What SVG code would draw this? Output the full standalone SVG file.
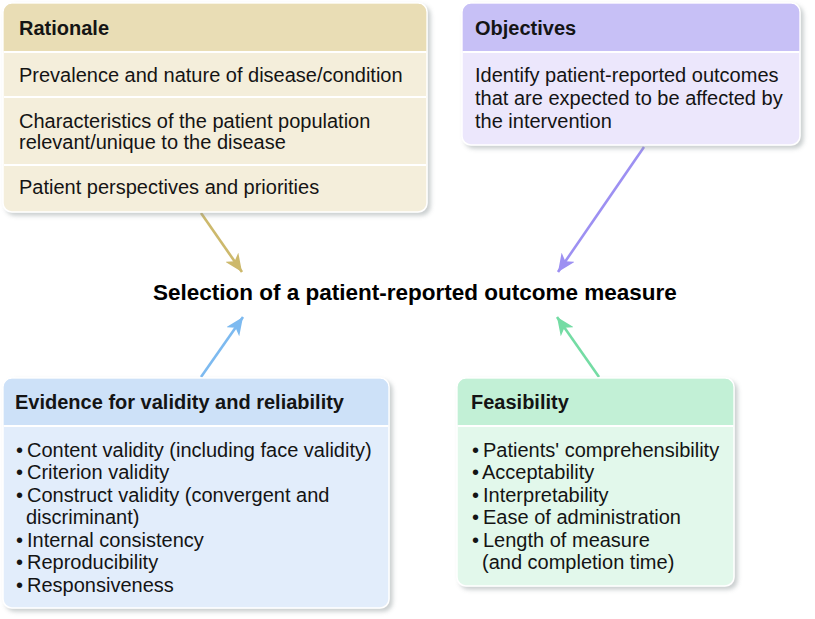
<svg xmlns="http://www.w3.org/2000/svg" width="815" height="619" viewBox="0 0 815 619">
<defs>
<filter id="sh" x="-5%" y="-5%" width="115%" height="115%">
<feDropShadow dx="3" dy="3" stdDeviation="2" flood-color="#8a9496" flood-opacity="0.45"/>
</filter>
<marker id="mTan" markerUnits="userSpaceOnUse" markerWidth="20" markerHeight="16" refX="18" refY="8" orient="auto"><path d="M0,0 L18,8 L0,16 L5,8 z" fill="#cdb96c"/></marker>
<marker id="mPur" markerUnits="userSpaceOnUse" markerWidth="20" markerHeight="16" refX="18" refY="8" orient="auto"><path d="M0,0 L18,8 L0,16 L5,8 z" fill="#9d90f2"/></marker>
<marker id="mBlu" markerUnits="userSpaceOnUse" markerWidth="20" markerHeight="16" refX="18" refY="8" orient="auto"><path d="M0,0 L18,8 L0,16 L5,8 z" fill="#7dbaf0"/></marker>
<marker id="mGrn" markerUnits="userSpaceOnUse" markerWidth="20" markerHeight="16" refX="18" refY="8" orient="auto"><path d="M0,0 L18,8 L0,16 L5,8 z" fill="#74dca4"/></marker>
</defs>
<style>
text{font-family:"Liberation Sans",Arial,Helvetica,sans-serif;fill:#141414;}
.h{font-size:20px;font-weight:bold;}
.t{font-size:20px;}
.title{font-size:22.5px;font-weight:bold;fill:#000;}
.box{filter:url(#sh);stroke:#ffffff;stroke-width:1.5;}
.div{stroke:#ffffff;stroke-width:2;}
.arr{stroke-width:2.6;fill:none;}
</style>
<rect width="815" height="619" fill="#ffffff"/>

<g id="connectors">
<line class="arr" x1="201" y1="213" x2="242" y2="272" stroke="#cdb96c" marker-end="url(#mTan)"/>
<line class="arr" x1="644" y1="147" x2="558" y2="272" stroke="#9d90f2" marker-end="url(#mPur)"/>
<line class="arr" x1="201" y1="377" x2="243" y2="317" stroke="#7dbaf0" marker-end="url(#mBlu)"/>
<line class="arr" x1="599" y1="377" x2="557" y2="317" stroke="#74dca4" marker-end="url(#mGrn)"/>
</g>

<g id="rationale">
<rect class="box" x="3" y="3" width="424" height="209" rx="9" fill="#f4eedb"/>
<path d="M3.75,51 V12 a8.25,8.25 0 0 1 8.25,-8.25 H418 a8.25,8.25 0 0 1 8.25,8.25 V51 Z" fill="#e9ddb5"/>
<line class="div" x1="4" y1="52" x2="426" y2="52"/>
<line class="div" x1="4" y1="97" x2="426" y2="97"/>
<line class="div" x1="4" y1="165" x2="426" y2="165"/>
<text class="h" x="19" y="35">Rationale</text>
<text class="t" x="19" y="82">Prevalence and nature of disease/condition</text>
<text class="t" x="19" y="128">Characteristics of the patient population</text>
<text class="t" x="19" y="149">relevant/unique to the disease</text>
<text class="t" x="19" y="194">Patient perspectives and priorities</text>
</g>

<g id="objectives">
<rect class="box" x="462" y="3" width="338" height="142" rx="9" fill="#ece7fc"/>
<path d="M462.75,51 V12 a8.25,8.25 0 0 1 8.25,-8.25 H791 a8.25,8.25 0 0 1 8.25,8.25 V51 Z" fill="#c7c0f6"/>
<line class="div" x1="463" y1="52" x2="799" y2="52"/>
<text class="h" x="475" y="35">Objectives</text>
<text class="t" x="475" y="82">Identify patient-reported outcomes</text>
<text class="t" x="475" y="105">that are expected to be affected by</text>
<text class="t" x="475" y="128">the intervention</text>
</g>

<g id="center">
<text class="title" x="153" y="300">Selection of a patient-reported outcome measure</text>
</g>

<g id="evidence">
<rect class="box" x="3" y="378" width="386" height="230" rx="9" fill="#e2edfb"/>
<path d="M3.75,425 V387 a8.25,8.25 0 0 1 8.25,-8.25 H380 a8.25,8.25 0 0 1 8.25,8.25 V425 Z" fill="#cde1f8"/>
<line class="div" x1="4" y1="426" x2="388" y2="426"/>
<text class="h" x="15" y="409">Evidence for validity and reliability</text>
<text class="t"><tspan x="16" y="457">•</tspan><tspan x="27" y="457">Content validity (including face validity)</tspan></text>
<text class="t"><tspan x="16" y="479">•</tspan><tspan x="27" y="479">Criterion validity</tspan></text>
<text class="t"><tspan x="16" y="502">•</tspan><tspan x="27" y="502">Construct validity (convergent and</tspan></text>
<text class="t" x="26" y="524">discriminant)</text>
<text class="t"><tspan x="16" y="547">•</tspan><tspan x="27" y="547">Internal consistency</tspan></text>
<text class="t"><tspan x="16" y="569">•</tspan><tspan x="27" y="569">Reproducibility</tspan></text>
<text class="t"><tspan x="16" y="592">•</tspan><tspan x="27" y="592">Responsiveness</tspan></text>
</g>

<g id="feasibility">
<rect class="box" x="457" y="378" width="277" height="208" rx="9" fill="#e2f8eb"/>
<path d="M457.75,425 V387 a8.25,8.25 0 0 1 8.25,-8.25 H725 a8.25,8.25 0 0 1 8.25,8.25 V425 Z" fill="#c2f0d6"/>
<line class="div" x1="458" y1="426" x2="733" y2="426"/>
<text class="h" x="471" y="409">Feasibility</text>
<text class="t"><tspan x="472" y="457">•</tspan><tspan x="483" y="457">Patients' comprehensibility</tspan></text>
<text class="t"><tspan x="472" y="479">•</tspan><tspan x="482" y="479">Acceptability</tspan></text>
<text class="t"><tspan x="472" y="502">•</tspan><tspan x="483" y="502">Interpretability</tspan></text>
<text class="t"><tspan x="472" y="524">•</tspan><tspan x="483" y="524">Ease of administration</tspan></text>
<text class="t"><tspan x="472" y="547">•</tspan><tspan x="483" y="547">Length of measure</tspan></text>
<text class="t" x="482" y="569">(and completion time)</text>
</g>
</svg>
